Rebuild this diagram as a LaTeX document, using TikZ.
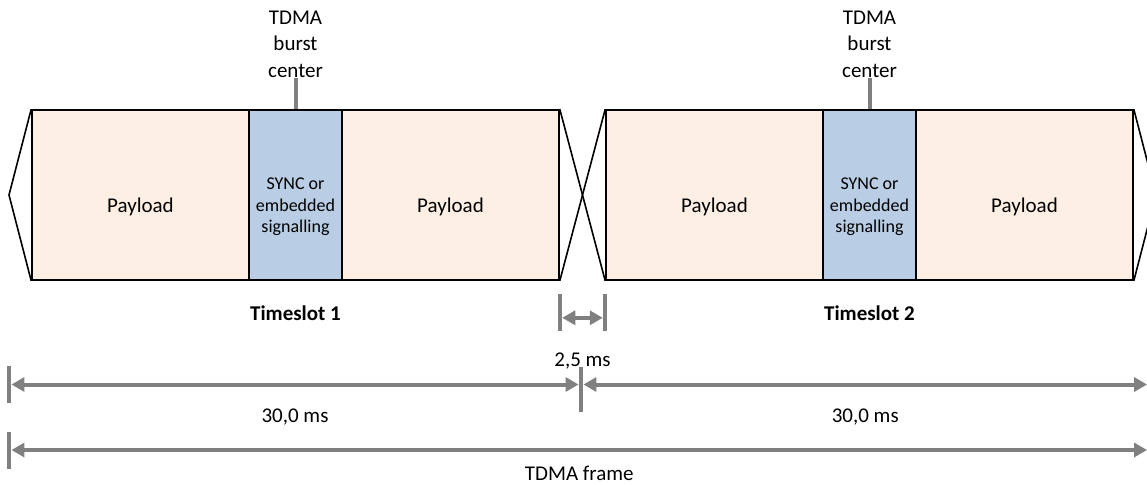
\documentclass[tikz,border=0pt]{standalone}
\usepackage{fontspec}
\setmainfont{Carlito}
\usetikzlibrary{arrows.meta}
\definecolor{payfill}{RGB}{253,239,227}
\definecolor{syncfill}{RGB}{185,205,229}
\definecolor{dimgray}{RGB}{128,128,128}
\tikzset{
  payload/.style={draw, fill=payfill, line width=1.6pt, minimum width=217pt, minimum height=170pt, inner sep=0pt},
  syncbox/.style={draw, fill=syncfill, line width=1.6pt, minimum width=93pt, minimum height=170pt, inner sep=0pt},
  txt/.style={font=\fontsize{21}{26.4}\selectfont, inner sep=0pt, align=center},
  synctxt/.style={font=\fontsize{18}{21.5}\selectfont, inner sep=0pt, align=center},
  slottxt/.style={font=\bfseries\fontsize{21}{26}\selectfont, inner sep=0pt},
  slotline/.style={line width=1.6pt},
  centertick/.style={draw=dimgray, line width=4pt},
  dimbar/.style={fill=dimgray, minimum width=4.5pt, minimum height=37pt, inner sep=0pt},
  dimline/.style={draw=dimgray, line width=4pt, {Triangle[length=13pt,width=14pt]}-{Triangle[length=13pt,width=14pt]}}
}
\begin{document}
\begin{tikzpicture}[x=1pt,y=-1pt]
    \useasboundingbox (0,0) rectangle (1147,484);
    % the two timeslots
    \foreach \s/\x in {1/0,2/574}{
        \node[payload] (pa\s) at (140.5+\x,195) {};
        \node[payload] (pb\s) at (450.5+\x,195) {};
        \node[syncbox] (sy\s) at (295.5+\x,195) {};
        \node[txt] (pat\s) at ([yshift=-12pt]pa\s.center) {Payload};
        \node[txt] (pbt\s) at ([yshift=-12pt]pb\s.center) {Payload};
        \node[synctxt] (syt\s) at ([yshift=-12pt]sy\s.center) {SYNC or\\embedded\\signalling};
        \node[txt] (bc\s) at ([yshift=65pt]sy\s.north) {TDMA\\burst\\center};
        \node[slottxt] (ts\s) at ([yshift=-32pt]sy\s.south) {Timeslot \s};
        \draw[centertick] (sy\s.north) -- (bc\s.south);
    }
    \coordinate (ltip) at (9,195);
    \coordinate (rtip) at (1156,195);
    \draw[slotline] (pa1.north west) -- (ltip) -- (pa1.south west);
    \draw[slotline] (pb1.north east) -- (pa2.south west);
    \draw[slotline] (pb1.south east) -- (pa2.north west);
    \draw[slotline] (pb2.north east) -- (rtip) -- (pb2.south east);
    % guard time
    \node[dimbar] (g1) at ([yshift=-31.5pt]pb1.south east) {};
    \node[dimbar] (g2) at ([yshift=-31.5pt]pa2.south west) {};
    \draw[dimline] ([yshift=-5.5pt]g1.east) -- node[below=33pt, txt] (gapt) {2,5 ms} ([yshift=-5.5pt]g2.west);
    % timeslot lengths
    \node[dimbar] (b0) at (9,384.5) {};
    \node[dimbar, minimum height=45pt] (b1) at (581,389.5) {};
    \node[dimbar] (b2) at (1149.5,384.5) {};
    \draw[dimline] (b0.east) -- node[below=22.5pt, txt] (l1) {30,0 ms} (b0.east -| b1.west);
    \draw[dimline] (b0.east -| b1.east) -- node[below=22.5pt, txt] (l2) {30,0 ms} (b2.west);
    % frame
    \node[dimbar] (f0) at (9,450) {};
    \node[dimbar] (f1) at (1149.5,450) {};
    \draw[dimline] (f0) -- node[below=14pt, txt] (lf) {TDMA frame} (f1);
\end{tikzpicture}
\end{document}
